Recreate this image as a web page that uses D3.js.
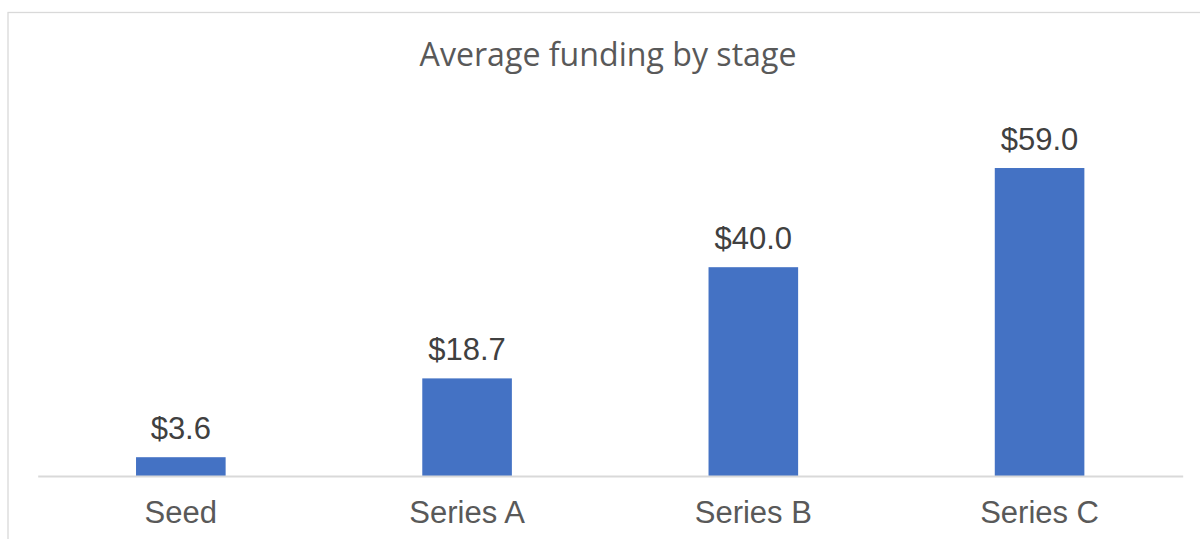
<!DOCTYPE html>
<html>
<head>
<meta charset="utf-8">
<script src="https://cdn.jsdelivr.net/npm/d3@7"></script>
<style>
  html, body { margin: 0; padding: 0; background: #fff; }
  svg { display: block; }
</style>
</head>
<body>
<svg id="chart" width="1200" height="539"></svg>
<script>
const categories = ["Seed", "Series A", "Series B", "Series C"];
const values = [3.6, 18.7, 40.0, 59.0];
const title = "Average funding by stage";

const W = 1200, H = 539;
const svg = d3.select("#chart");

// chart border
svg.append("rect")
  .attr("x", 8).attr("y", 12.5)
  .attr("width", 1220).attr("height", 600)
  .attr("fill", "#fff")
  .attr("stroke", "#d9d9d9").attr("stroke-width", 1.3);

const plot = { left: 37.7, right: 1182.7, bottom: 476, top: 110.6 };

const x = d3.scaleBand()
  .domain(categories)
  .range([plot.left, plot.right])
  .paddingInner(0.687)
  .paddingOuter(0.3435);

const y = d3.scaleLinear()
  .domain([0, 70])
  .range([plot.bottom, plot.top]);

// title
const t = svg.append("text")
  .attr("x", 608).attr("y", 66)
  .attr("text-anchor", "middle")
  .attr("fill", "#595959")
  .style("font-family", "'Open Sans', 'Noto Sans', sans-serif")
  .style("font-size", "30px")
  .text(title);
const tw = t.node().getComputedTextLength();
t.style("font-size", (30 * 377 / tw) + "px");

// bars
svg.append("g").selectAll("rect")
  .data(categories)
  .join("rect")
  .attr("x", d => x(d))
  .attr("width", x.bandwidth())
  .attr("y", (d, i) => y(values[i]))
  .attr("height", (d, i) => y(0) - y(values[i]))
  .attr("fill", "#4472C4");

// axis
const axis = d3.axisBottom(x).tickSize(0).tickPadding(0);
const gx = svg.append("g")
  .attr("transform", `translate(0,${plot.bottom})`)
  .call(axis);
gx.select(".domain").attr("stroke", "#d9d9d9").attr("stroke-width", 2.2);
gx.selectAll(".tick text")
  .attr("dy", null)
  .attr("y", 47)
  .attr("fill", "#595959")
  .style("font-family", "'Liberation Sans', Arial, sans-serif")
  .style("font-size", "31px");

// data labels
svg.append("g").selectAll("text")
  .data(categories)
  .join("text")
  .attr("x", d => x(d) + x.bandwidth() / 2)
  .attr("y", (d, i) => y(values[i]) - 18)
  .attr("text-anchor", "middle")
  .attr("fill", "#404040")
  .style("font-family", "'Liberation Sans', Arial, sans-serif")
  .style("font-size", "31px")
  .text((d, i) => "$" + values[i].toFixed(1));
</script>
</body>
</html>
